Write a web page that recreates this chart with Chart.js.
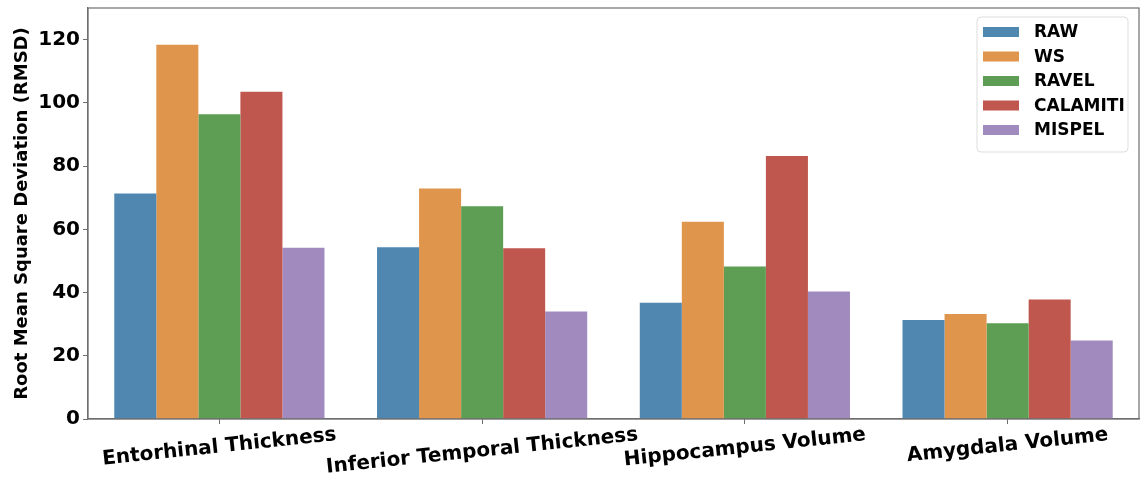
<!DOCTYPE html>
<html>
<head>
<meta charset="utf-8">
<script src="https://cdn.jsdelivr.net/npm/chart.js@4.4.1/dist/chart.umd.min.js"></script>
<style>
  html, body { margin: 0; padding: 0; background: #fff; }
  #wrap { width: 1147px; height: 480px; }
</style>
</head>
<body>
<div id="wrap"><canvas id="chart" width="1147" height="480"></canvas></div>
<script>
const categories = ["Entorhinal Thickness", "Inferior Temporal Thickness", "Hippocampus Volume", "Amygdala Volume"];
const methods = ["RAW", "WS", "RAVEL", "CALAMITI", "MISPEL"];
const rawVals = [71.3, 54.3, 36.8, 31.3];
const wsVals = [118.4, 72.9, 62.4, 33.2];
const ravelVals = [96.4, 67.3, 48.2, 30.3];
const calamitiVals = [103.5, 54.0, 83.2, 37.8];
const mispelVals = [54.2, 34.0, 40.3, 24.8];
const yTicks = [0, 20, 40, 60, 80, 100, 120];
const colors = ["#4f87b1", "#df954b", "#5d9e54", "#c0574f", "#a18abe"];

const FONT = "'DejaVu Sans', sans-serif";
const series = [rawVals, wsVals, ravelVals, calamitiVals, mispelVals];

const datasets = methods.map((m, i) => ({
  label: m,
  data: series[i],
  backgroundColor: colors[i],
  borderWidth: 0,
  categoryPercentage: 0.8,
  barPercentage: 1.0,
}));

// frame, rotated x labels and the in-plot legend
const extras = {
  id: "extras",
  afterDraw(chart) {
    const { ctx, chartArea: a, scales } = chart;
    ctx.save();
    ctx.strokeStyle = "#6f6f6f";
    ctx.lineWidth = 1.2;
    ctx.strokeRect(a.left, a.top, a.right - a.left, a.bottom - a.top);

    // x labels, centred on the tick and tilted a little
    const ang = -6 * Math.PI / 180;
    const fs = 20;
    ctx.font = "bold " + fs + "px " + FONT;
    ctx.fillStyle = "#000";
    ctx.textAlign = "center";
    ctx.textBaseline = "middle";
    categories.forEach((c, i) => {
      const x = scales.x.getPixelForValue(i);
      const w = ctx.measureText(c).width;
      const bh = w * Math.abs(Math.sin(ang)) + fs * Math.cos(ang);
      const y = 425 + bh / 2;
      ctx.save();
      ctx.translate(x, y);
      ctx.rotate(ang);
      ctx.fillText(c, 0, 0);
      ctx.restore();
    });

    // legend
    const lx = 977, ly = 17, lw = 151, lh = 135;
    ctx.fillStyle = "rgba(255,255,255,0.85)";
    ctx.strokeStyle = "#ddd";
    ctx.lineWidth = 1;
    ctx.beginPath();
    ctx.roundRect(lx, ly, lw, lh, 4);
    ctx.fill();
    ctx.stroke();
    ctx.font = "bold 17px " + FONT;
    ctx.textAlign = "left";
    chart.data.datasets.forEach((ds, i) => {
      const cy = 32 + i * 24.5;
      ctx.fillStyle = ds.backgroundColor;
      ctx.fillRect(983, cy - 5, 36, 10);
      ctx.fillStyle = "#000";
      ctx.fillText(ds.label, 1034, cy + 1);
    });
    ctx.restore();
  }
};

new Chart(document.getElementById("chart"), {
  type: "bar",
  data: { labels: categories, datasets },
  plugins: [extras],
  options: {
    responsive: false,
    animation: false,
    layout: { padding: { top: 8, right: 8, left: 0, bottom: 0 } },
    plugins: { legend: { display: false }, tooltip: { enabled: false } },
    scales: {
      x: {
        offset: true,
        grid: { display: true, drawOnChartArea: false, offset: false, tickLength: 5, color: "#6f6f6f" },
        border: { display: true, color: "#6f6f6f", width: 1.2 },
        ticks: { display: false },
        afterFit: s => { s.height = 61; },
      },
      y: {
        min: 0,
        max: 130,
        grid: { display: true, drawOnChartArea: false, tickLength: 5, color: "#6f6f6f" },
        border: { display: true, color: "#6f6f6f", width: 1.2 },
        afterBuildTicks: s => { s.ticks = yTicks.map(v => ({ value: v })); },
        ticks: {
          color: "#000",
          padding: 3,
          font: { family: FONT, size: 20, weight: "bold" },
        },
        title: {
          display: true,
          text: "Root Mean Square Deviation (RMSD)",
          color: "#000",
          padding: { top: 12, bottom: 0 },
          font: { family: FONT, size: 18, weight: "bold" },
        },
        afterFit: s => { s.width = 88; s.paddingTop = 0; s.paddingBottom = 0; },
      }
    }
  }
});
</script>
</body>
</html>
